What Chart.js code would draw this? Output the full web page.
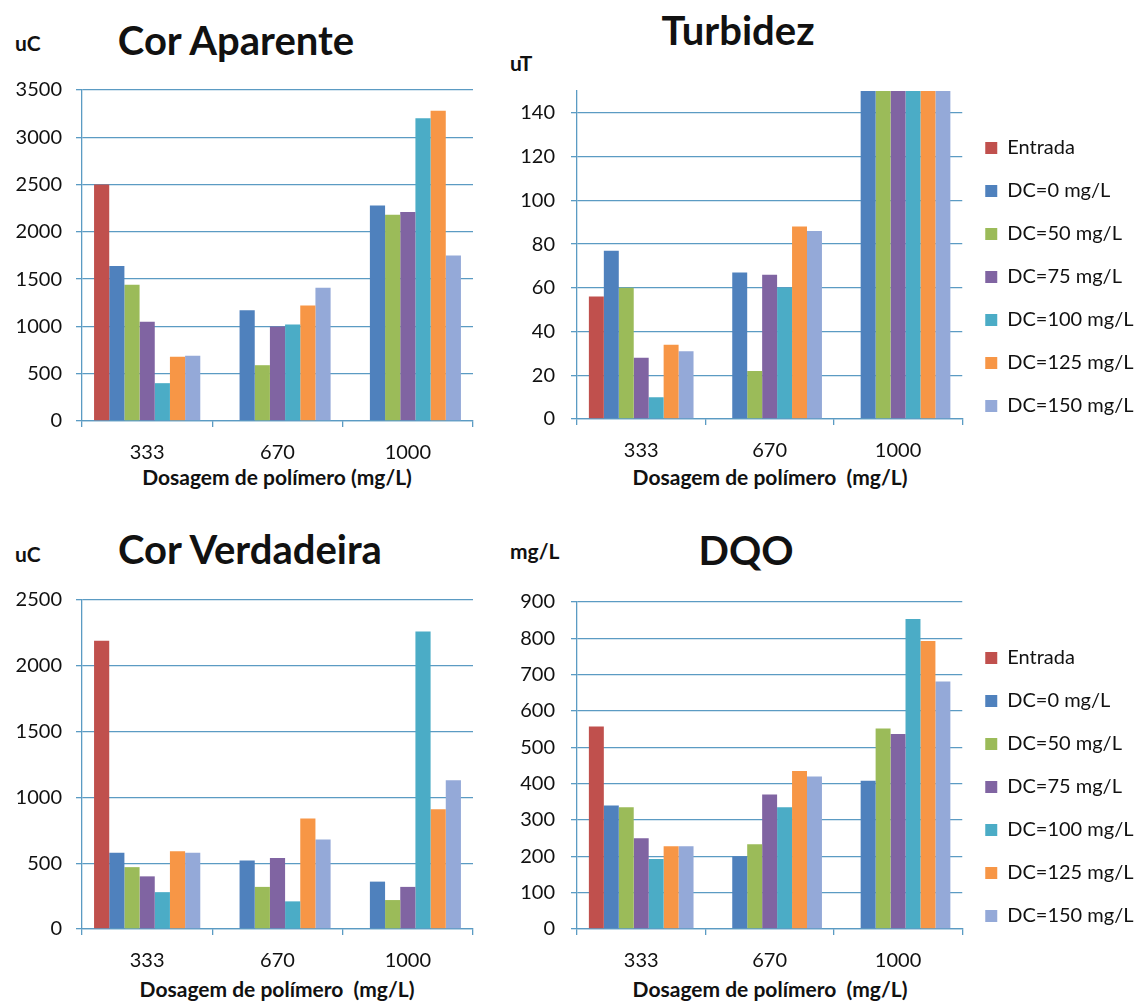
<!DOCTYPE html>
<html>
<head>
<meta charset="utf-8">
<title>Dosagem de polímero</title>
<script src="https://cdn.jsdelivr.net/npm/chart.js@4.4.0/dist/chart.umd.min.js"></script>
<style>
    body { margin: 0; width: 1139px; height: 1001px; position: relative; overflow: hidden; background: #fff; font-family: Lato, sans-serif; color: #111; }
    canvas { position: absolute; }
    .title { position: absolute; font-size: 40px; font-weight: bold; line-height: 1; white-space: nowrap; transform: translate(-50%, -50%); }
    .unit { position: absolute; font-size: 21px; font-weight: bold; line-height: 1; transform: translateY(-50%); }
    .xtitle { position: absolute; font-size: 21px; font-weight: bold; line-height: 1; white-space: pre; transform: translate(-50%, -50%); }
</style>
</head>
<body>
<div class="unit" style="left:15px; top:42px">uC</div>
<div class="title" style="left:236px; top:40px">Cor Aparente</div>
<div class="xtitle" style="left:277px; top:476px">Dosagem de polímero (mg/L)</div>
<canvas id="corAparenteChart" width="480" height="414" style="left:0; top:64px"></canvas>

<div class="unit" style="left:510px; top:62px">uT</div>
<div class="title" style="left:738px; top:30px">Turbidez</div>
<div class="xtitle" style="left:770px; top:476px">Dosagem de polímero  (mg/L)</div>
<canvas id="turbidezChart" width="659" height="413" style="left:480px; top:63px"></canvas>

<div class="unit" style="left:15px; top:553px">uC</div>
<div class="title" style="left:250px; top:549px">Cor Verdadeira</div>
<div class="xtitle" style="left:277px; top:988px">Dosagem de polímero  (mg/L)</div>
<canvas id="corVerdadeiraChart" width="480" height="412" style="left:0; top:574px"></canvas>

<div class="unit" style="left:510px; top:550px">mg/L</div>
<div class="title" style="left:746px; top:550px">DQO</div>
<div class="xtitle" style="left:770px; top:988px">Dosagem de polímero  (mg/L)</div>
<canvas id="dqoChart" width="659" height="411" style="left:480px; top:574px"></canvas>

<script>
// ===== DATA =====
const categories = ['333', '670', '1000'];
const seriesNames = ['Entrada', 'DC=0 mg/L', 'DC=50 mg/L', 'DC=75 mg/L', 'DC=100 mg/L', 'DC=125 mg/L', 'DC=150 mg/L'];

// one row per series, values for 333 / 670 / 1000
const corAparente = [
    [2500, null, null],
    [1640, 1170, 2280],
    [1440, 590, 2180],
    [1050, 1000, 2210],
    [400, 1020, 3200],
    [680, 1220, 3280],
    [690, 1410, 1750]
];
const turbidez = [
    [56, null, null],
    [77, 67, 150],
    [60, 22, 150],
    [28, 66, 150],
    [10, 60, 150],
    [34, 88, 150],
    [31, 86, 150]
];
const corVerdadeira = [
    [2190, null, null],
    [580, 520, 360],
    [470, 320, 220],
    [400, 540, 320],
    [280, 210, 2260],
    [590, 840, 910],
    [580, 680, 1130]
];
const dqo = [
    [557, null, null],
    [340, 200, 408],
    [335, 233, 552],
    [250, 370, 537],
    [193, 335, 853],
    [228, 435, 793],
    [228, 420, 681]
];

const corAparenteTicks = [0, 500, 1000, 1500, 2000, 2500, 3000, 3500];
const turbidezTicks = [0, 20, 40, 60, 80, 100, 120, 140];
const corVerdadeiraTicks = [0, 500, 1000, 1500, 2000, 2500];
const dqoTicks = [0, 100, 200, 300, 400, 500, 600, 700, 800, 900];

// ===== STYLE =====
const seriesColors = ['#c0504d', '#4f81bd', '#9bbb59', '#8064a2', '#4bacc6', '#f79646', '#94a9d8'];
const axisColor = '#5b9bc3';
const textColor = '#111';

Chart.defaults.font.family = 'Lato, sans-serif';
Chart.defaults.color = textColor;

// legend text came out wider than its measured box and got clipped,
// so let the legend draw up to the canvas edge
const legendRoom = {
    id: 'legendRoom',
    afterLayout: function(chart) {
        if (chart.legend && chart.legend.options.display) {
            chart.legend.right = chart.width;
        }
    }
};

function makeChart(id, values, ticks, yMax, opt) {
    const datasets = seriesNames.map((name, i) => ({
        label: name,
        data: values[i],
        backgroundColor: seriesColors[i],
        borderWidth: 0,
        barPercentage: 1,
        categoryPercentage: 0.815
    }));

    return new Chart(document.getElementById(id), {
        type: 'bar',
        data: { labels: categories, datasets: datasets },
        plugins: [legendRoom],
        options: {
            responsive: false,
            animation: false,
            events: [],
            layout: { padding: opt.padding },
            plugins: {
                title: { display: false },
                tooltip: { enabled: false },
                legend: {
                    display: opt.legend,
                    position: 'right',
                    align: 'center',
                    labels: {
                        boxWidth: 12,
                        boxHeight: 12,
                        padding: 23,
                        color: textColor,
                        font: { size: 20 }
                    }
                }
            },
            scales: {
                x: {
                    afterFit: function(scale) { scale.height = opt.xHeight; },
                    grid: {
                        offset: true,
                        drawOnChartArea: false,
                        drawTicks: true,
                        tickLength: 6,
                        color: axisColor,
                        lineWidth: 1.3
                    },
                    border: { color: axisColor, width: 1.3 },
                    ticks: { color: textColor, font: { size: 20 }, padding: 14 }
                },
                y: {
                    min: 0,
                    max: yMax,
                    afterFit: function(scale) { scale.width = opt.yWidth; },
                    afterBuildTicks: function(scale) {
                        scale.ticks = ticks.map(v => ({ value: v }));
                    },
                    grid: {
                        drawTicks: true,
                        tickLength: 6,
                        color: axisColor,
                        lineWidth: 1.3
                    },
                    border: { color: axisColor, width: 1.3 },
                    ticks: {
                        color: textColor,
                        font: { size: 20 },
                        padding: opt.yPad,
                        callback: function(value) { return String(value); }
                    }
                }
            }
        }
    });
}

makeChart('corAparenteChart', corAparente, corAparenteTicks, 3500,
    { padding: { top: 20, right: 7, bottom: 5, left: 0 }, yWidth: 82, xHeight: 52, yPad: 14, legend: false });
makeChart('turbidezChart', turbidez, turbidezTicks, 150,
    { padding: { top: 20, right: 16, bottom: 5, left: 0 }, yWidth: 97, xHeight: 52, yPad: 16, legend: true });
makeChart('corVerdadeiraChart', corVerdadeira, corVerdadeiraTicks, 2500,
    { padding: { top: 20, right: 7, bottom: 5, left: 0 }, yWidth: 82, xHeight: 52, yPad: 14, legend: false });
makeChart('dqoChart', dqo, dqoTicks, 900,
    { padding: { top: 20, right: 16, bottom: 5, left: 0 }, yWidth: 97, xHeight: 51, yPad: 16, legend: true });
</script>
</body>
</html>
